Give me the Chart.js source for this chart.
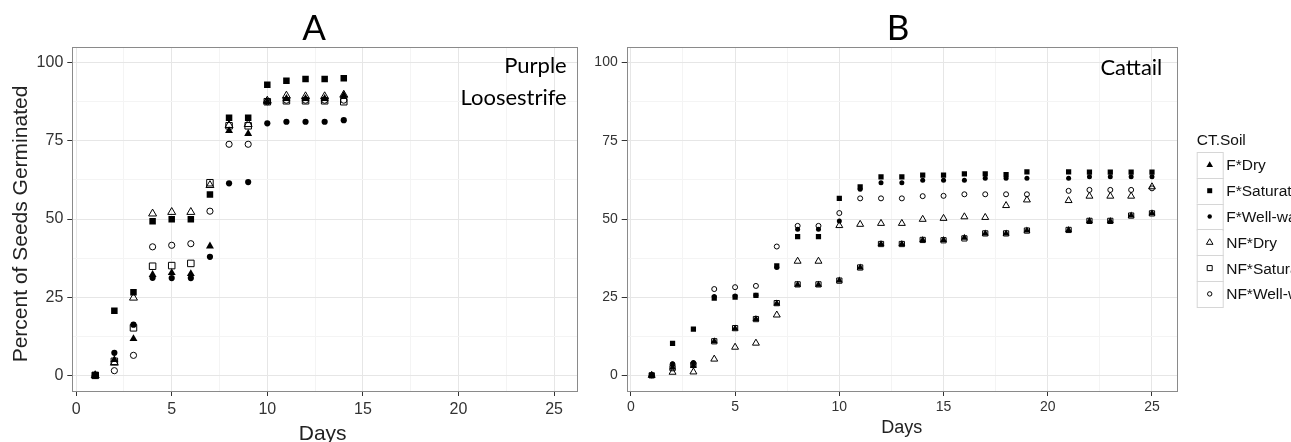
<!DOCTYPE html>
<html>
<head>
<meta charset="utf-8">
<script src="https://cdn.jsdelivr.net/npm/chart.js@4.4.1/dist/chart.umd.min.js"></script>
<style>
  html, body { margin: 0; padding: 0; background: #fff; }
  #wrap { position: relative; width: 1291px; height: 442px; overflow: hidden; }
  canvas { position: absolute; top: 0; }
  #chart-a { left: 0; }
  #chart-b { left: 590px; }
</style>
</head>
<body>
<div id="wrap">
  <canvas id="chart-a" width="590" height="442"></canvas>
  <canvas id="chart-b" width="701" height="442"></canvas>
</div>
<script>
// data
const gDaysA = [1, 2, 3, 4, 5, 6, 7, 8, 9, 10, 11, 12, 13, 14];
const gFDryA = [0, 5, 11.7, 32.2, 32.8, 32.5, 41.3, 78.2, 77.3, 87.5, 88.5, 88.5, 88.5, 89.5];
const gFSatA = [0, 20.7, 26.6, 49.3, 49.9, 49.9, 57.8, 82.4, 82.4, 92.9, 94.2, 94.8, 94.8, 95];
const gFWellA = [0, 7.2, 16.2, 31.2, 31.1, 31.1, 37.9, 61.4, 61.8, 80.6, 81.1, 81.1, 81.1, 81.6];
const gNFDryA = [0, 4, 24.8, 51.7, 52.2, 52.2, 60.8, 80, 80.3, 87.8, 89.4, 89.2, 89.2, 89.7];
const gNFSatA = [0, 4.5, 15.2, 34.9, 35.1, 35.8, 61.6, 79.8, 79.8, 87.5, 87.8, 87.8, 87.8, 87.5];
const gNFWellA = [0, 1.5, 6.4, 41.1, 41.6, 42.1, 52.5, 73.9, 73.9, 87.5, 88, 88, 88, 88];

const gDaysB = [1, 2, 3, 4, 5, 6, 7, 8, 9, 10, 11, 12, 13, 14, 15, 16, 17, 18, 19, 21, 22, 23, 24, 25];
const gFDryB = [0, 2.5, 3, 10.9, 15, 18, 23, 29, 29, 30.3, 34.5, 42, 42, 43.3, 43.3, 44, 45.4, 45.4, 46.3, 46.5, 49.4, 49.4, 51.1, 51.8];
const gFSatB = [0, 10.2, 14.8, 24.7, 25, 25.6, 35, 44.4, 44.4, 56.6, 60.3, 63.5, 63.5, 64, 64, 64.4, 64.4, 64.2, 65.1, 65.1, 65, 65, 65, 65];
const gFWellB = [0, 3.7, 4.1, 25.2, 25.4, 25.6, 34.5, 46.7, 46.7, 49.4, 59.5, 61.6, 61.6, 62.4, 62.4, 62.4, 63, 63, 63, 63, 63.5, 63.5, 63.5, 63.5];
const gNFDryB = [0, 1, 1.1, 5.2, 9, 10.3, 19.3, 36.5, 36.5, 47.9, 48.3, 48.6, 48.6, 49.9, 50.2, 50.7, 50.5, 54.3, 56.1, 55.9, 57.3, 57.3, 57.3, 60.3];
const gNFSatB = [0, 2.3, 3.4, 10.9, 15.1, 18, 23.1, 29.1, 29.1, 30.3, 34.5, 42, 42, 43.3, 43.2, 43.8, 45.4, 45.4, 46.3, 46.5, 49.4, 49.4, 51.1, 51.8];
const gNFWellB = [0, 3.5, 3.8, 27.6, 28.2, 28.6, 41.2, 47.8, 47.8, 51.9, 56.6, 56.6, 56.6, 57.3, 57.4, 57.9, 57.9, 57.9, 57.9, 59, 59.3, 59.3, 59.3, 59.8];

const gSeriesNames = ['F*Dry', 'F*Saturated', 'F*Well-watered', 'NF*Dry', 'NF*Saturated', 'NF*Well-watered'];
const gXTickLabels = [0, 5, 10, 15, 20, 25];
const gYTickLabels = [0, 25, 50, 75, 100];

// marker styles, same order as the series names
const G_SHAPES = [
  { shape: 'triangle', filled: true },
  { shape: 'rect', filled: true },
  { shape: 'circle', filled: true },
  { shape: 'triangle', filled: false },
  { shape: 'rect', filled: false },
  { shape: 'circle', filled: false },
];
const G_MAJOR = '#e6e6e6';
const G_MINOR = '#f4f4f4';
const G_TEXT = '#333';

// major ticks plus the minor ones half way between
function withMinor(pMajor) {
  let vTicks = [];
  pMajor.forEach((v, i) => {
    vTicks.push(v);
    if (i < pMajor.length - 1) vTicks.push((v + pMajor[i + 1]) / 2);
  });
  return vTicks;
}

function makeAxis(pLabels, pMin, pMax, pFontSize, pPad, pFit) {
  return {
    type: 'linear',
    min: pMin,
    max: pMax,
    afterBuildTicks: (scale) => {
      scale.ticks = withMinor(pLabels).map((v) => ({ value: v }));
    },
    afterFit: pFit,
    grid: {
      color: (c) => (pLabels.includes(c.tick.value) ? G_MAJOR : G_MINOR),
      tickColor: (c) => (pLabels.includes(c.tick.value) ? '#333' : 'rgba(0,0,0,0)'),
      tickLength: 5,
      lineWidth: 1,
    },
    border: { display: false },
    ticks: {
      callback: (v) => (pLabels.includes(v) ? String(v) : ''),
      autoSkip: false,
      maxRotation: 0,
      padding: pPad,
      color: G_TEXT,
      font: { family: 'Liberation Sans', size: pFontSize },
    },
  };
}

function makeDatasets(pDays, pSeries, pRadius) {
  return pSeries.map((values, i) => ({
    label: gSeriesNames[i],
    data: pDays.map((d, j) => ({ x: d, y: values[j] })),
    pointStyle: G_SHAPES[i].shape,
    pointRadius: pRadius[G_SHAPES[i].shape],
    pointHoverRadius: pRadius[G_SHAPES[i].shape],
    backgroundColor: G_SHAPES[i].filled ? '#000' : 'rgba(0,0,0,0)',
    borderColor: '#000',
    borderWidth: G_SHAPES[i].filled ? 0 : 1,
    showLine: false,
  }));
}

// panel border and free text
function makeDecorPlugin(pId, pTexts, pExtra) {
  return {
    id: pId,
    afterDraw(chart) {
      const vCtx = chart.ctx;
      const vArea = chart.chartArea;
      vCtx.save();
      vCtx.strokeStyle = '#8a8a8a';
      vCtx.lineWidth = 1;
      vCtx.strokeRect(
        Math.round(vArea.left) + 0.5,
        Math.round(vArea.top) + 0.5,
        Math.round(vArea.right - vArea.left),
        Math.round(vArea.bottom - vArea.top)
      );
      pTexts.forEach((t) => {
        vCtx.save();
        vCtx.font = t.font;
        vCtx.fillStyle = t.color || '#111';
        vCtx.textAlign = t.align || 'center';
        vCtx.textBaseline = 'alphabetic';
        vCtx.translate(t.x, t.y);
        if (t.rotate) vCtx.rotate(t.rotate);
        vCtx.fillText(t.text, 0, 0);
        vCtx.restore();
      });
      if (pExtra) pExtra(vCtx);
      vCtx.restore();
    },
  };
}

// legend for panel B, drawn beside the plot
function drawLegend(pCtx) {
  const vLeft = 1196.7 - 590;
  const vTop = 152;
  const vRow = 25.8;
  pCtx.font = '15.5px "Liberation Sans"';
  pCtx.fillStyle = '#111';
  pCtx.textAlign = 'left';
  pCtx.textBaseline = 'alphabetic';
  pCtx.fillText('CT.Soil', vLeft, 145);
  gSeriesNames.forEach((name, i) => {
    const vY = vTop + i * vRow;
    pCtx.fillStyle = '#fff';
    pCtx.fillRect(vLeft, vY, 26, vRow);
    pCtx.strokeStyle = '#d6d6d6';
    pCtx.lineWidth = 1;
    pCtx.strokeRect(vLeft + 0.5, Math.round(vY) + 0.5, 26, Math.round(vRow));
    const vCx = vLeft + 13;
    const vCy = vY + vRow / 2;
    const vStyle = G_SHAPES[i];
    pCtx.beginPath();
    if (vStyle.shape === 'triangle') {
      pCtx.moveTo(vCx, vCy - 3.6);
      pCtx.lineTo(vCx + 3.3, vCy + 2);
      pCtx.lineTo(vCx - 3.3, vCy + 2);
      pCtx.closePath();
    } else if (vStyle.shape === 'rect') {
      pCtx.rect(vCx - 2.5, vCy - 2.5, 5, 5);
    } else {
      pCtx.arc(vCx, vCy, 2.2, 0, Math.PI * 2);
    }
    if (vStyle.filled) {
      pCtx.fillStyle = '#000';
      pCtx.fill();
    } else {
      pCtx.strokeStyle = '#000';
      pCtx.stroke();
    }
    pCtx.fillStyle = '#111';
    pCtx.fillText(name, vLeft + 29.5, vCy + 5.5);
  });
}

// panel A
new Chart(document.getElementById('chart-a'), {
  type: 'scatter',
  data: {
    datasets: makeDatasets(gDaysA, [gFDryA, gFSatA, gFWellA, gNFDryA, gNFSatA, gNFWellA], {
      triangle: 4.6,
      rect: 4.6,
      circle: 3.1,
    }),
  },
  options: {
    responsive: false,
    animation: false,
    events: [],
    layout: { padding: { left: 0, right: 13, top: 47, bottom: 0 } },
    plugins: { legend: { display: false }, tooltip: { enabled: false } },
    scales: {
      x: makeAxis(gXTickLabels, -0.2, 26.2, 16, 3.6, (s) => { s.height = 51; }),
      y: makeAxis(gYTickLabels, -5, 105, 16, 4, (s) => { s.width = 72.3; }),
    },
  },
  plugins: [
    makeDecorPlugin('decorA', [
      { text: 'A', x: 314, y: 39.5, font: '35px Lato', color: '#000' },
      { text: 'Purple', x: 566.7, y: 73.3, font: '22px Lato', align: 'right', color: '#000' },
      { text: 'Loosestrife', x: 566.7, y: 105, font: '22px Lato', align: 'right', color: '#000' },
      { text: 'Days', x: 322.7, y: 440, font: '21px "Liberation Sans"', color: '#222' },
      { text: 'Percent of Seeds Germinated', x: 26.7, y: 224, font: '21px "Liberation Sans"', color: '#222', rotate: -Math.PI / 2 },
    ]),
  ],
});

// panel B
new Chart(document.getElementById('chart-b'), {
  type: 'scatter',
  data: {
    datasets: makeDatasets(gDaysB, [gFDryB, gFSatB, gFWellB, gNFDryB, gNFSatB, gNFWellB], {
      triangle: 4,
      rect: 3.7,
      circle: 2.5,
    }),
  },
  options: {
    responsive: false,
    animation: false,
    events: [],
    layout: { padding: { left: 0, right: 114, top: 47, bottom: 0 } },
    plugins: { legend: { display: false }, tooltip: { enabled: false } },
    scales: {
      x: makeAxis(gXTickLabels, -0.2, 26.2, 14, 2.8, (s) => { s.height = 51; }),
      y: makeAxis(gYTickLabels, -5, 105, 14, 4, (s) => { s.width = 36.7; }),
    },
  },
  plugins: [
    makeDecorPlugin('decorB', [
      { text: 'B', x: 898 - 590, y: 39.5, font: '35px Lato', color: '#000' },
      { text: 'Cattail', x: 1162.3 - 590, y: 75, font: '22px Lato', align: 'right', color: '#000' },
      { text: 'Days', x: 901.7 - 590, y: 433, font: '18px "Liberation Sans"', color: '#222' },
    ], drawLegend),
  ],
});
</script>
</body>
</html>
